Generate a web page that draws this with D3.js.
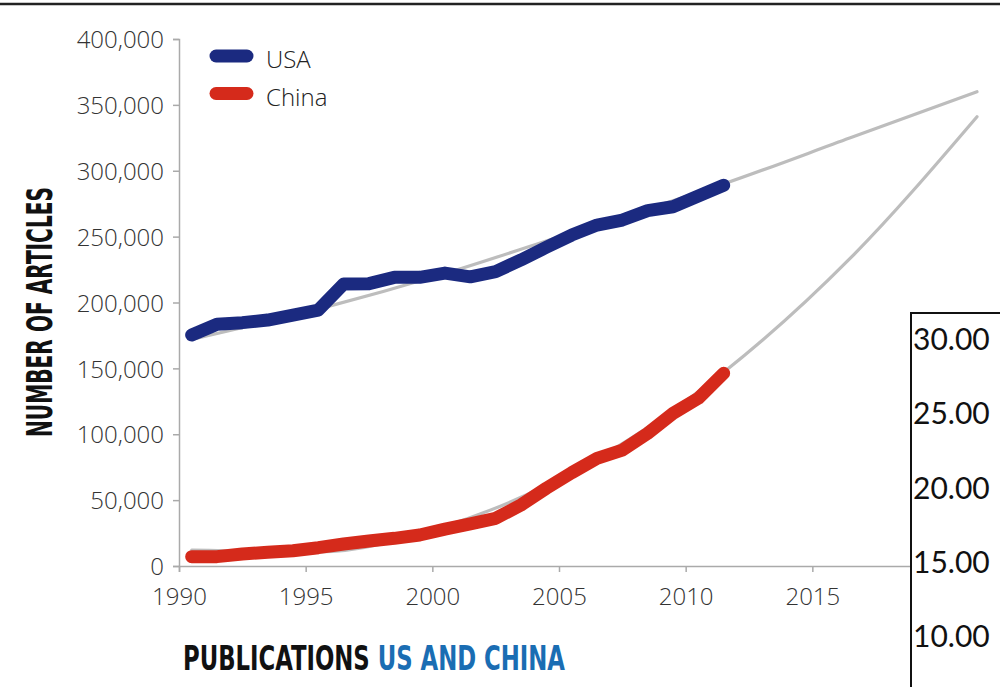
<!DOCTYPE html>
<html>
<head>
<meta charset="utf-8">
<script src="https://cdn.jsdelivr.net/npm/d3@7"></script>
<style>
  body { margin: 0; background: #fff; }
  svg { display: block; }
</style>
</head>
<body>
<svg width="1000" height="687"></svg>
<script>
const svg = d3.select('svg')

// data (values plotted mid-year)
const years = d3.range(1990, 2012)
const usa = [175300, 183500, 184700, 186700, 190500, 194300, 214000, 214300, 219100, 219100, 222300,
             219500, 223400, 232300, 241900, 251200, 258800, 262600, 269700, 272700, 280800, 289000]
const china = [7100, 7100, 9100, 10400, 11600, 13900, 16700, 19000, 21000, 23500, 28000,
               31900, 36200, 46300, 59000, 70800, 81700, 88000, 100700, 115900, 127300, 146300]

const trendYears = [1990, 1995, 2000, 2005, 2011, 2016, 2021]
const usaTrend = [172000, 195000, 222000, 253000, 290000, 325000, 360000]
const chinaTrend = [12000, 10700, 30300, 70700, 147000, 233600, 341000]

const yTicks = [0, 50000, 100000, 150000, 200000, 250000, 300000, 350000, 400000]
const xTicks = [1990, 1995, 2000, 2005, 2010, 2015]
const boxLabels = [30, 25, 20, 15, 10]

const series = [
  {name: 'USA', values: usa, trend: usaTrend, color: '#1b2a80'},
  {name: 'China', values: china, trend: chinaTrend, color: '#d52a1b'}
]

const x = d3.scaleLinear().domain([1990, 2020]).range([179, 939])
const y = d3.scaleLinear().domain([0, 400000]).range([566, 39])
const mid = yr => x(yr + 0.5)

const tickFont = '"Open Sans", sans-serif'

// top rule
svg.append('line')
   .attr('x1', 0).attr('x2', 1000)
   .attr('y1', 4).attr('y2', 4)
   .attr('stroke', '#222').attr('stroke-width', 2.5)

// y axis
const yAxis = svg.append('g')
                 .attr('transform', 'translate(179,0)')
                 .call(d3.axisLeft(y).tickValues(yTicks).tickSize(6).tickPadding(9)
                         .tickFormat(d3.format(',d')))
yAxis.select('.domain').attr('stroke', '#aaa').attr('stroke-width', 1.5)
yAxis.selectAll('.tick line').attr('stroke', '#aaa').attr('stroke-width', 1.5)
yAxis.selectAll('.tick text')
     .attr('font-family', tickFont).attr('font-size', 24).attr('font-weight', 300)
     .attr('fill', '#333').attr('dy', '0.36em')

// x axis (runs on under the box)
const xAxis = svg.append('g')
                 .attr('transform', 'translate(0,566)')
                 .call(d3.axisBottom(d3.scaleLinear().domain([1990, 2023]).range([179, 1015]))
                         .tickValues(xTicks).tickSize(6).tickPadding(16).tickFormat(d3.format('d')))
xAxis.select('.domain').attr('stroke', '#aaa').attr('stroke-width', 1.5)
xAxis.selectAll('.tick line').attr('stroke', '#aaa').attr('stroke-width', 1.5)
xAxis.selectAll('.tick text')
     .attr('font-family', tickFont).attr('font-size', 24).attr('font-weight', 300)
     .attr('fill', '#333')

// trend lines
const trendLine = d3.line()
                    .x((d, i) => mid(trendYears[i]))
                    .y(d => y(d))
                    .curve(d3.curveMonotoneX)

svg.selectAll('path.trend')
   .data(series)
   .enter().append('path')
   .attr('class', 'trend')
   .attr('d', d => trendLine(d.trend))
   .attr('fill', 'none')
   .attr('stroke', '#bdbdbd')
   .attr('stroke-width', 3.2)
   .attr('stroke-linecap', 'round')

// data lines
const line = d3.line()
               .x((d, i) => mid(years[i]))
               .y(d => y(d))

svg.selectAll('path.series')
   .data(series)
   .enter().append('path')
   .attr('class', 'series')
   .attr('d', d => line(d.values))
   .attr('fill', 'none')
   .attr('stroke', d => d.color)
   .attr('stroke-width', 13)
   .attr('stroke-linecap', 'round')
   .attr('stroke-linejoin', 'round')

// legend
const legend = svg.selectAll('g.legend')
                  .data(series)
                  .enter().append('g')
                  .attr('class', 'legend')
                  .attr('transform', (d, i) => 'translate(0,' + (56 + i * 37.5) + ')')
legend.append('line')
      .attr('x1', 216).attr('x2', 247)
      .attr('stroke', d => d.color)
      .attr('stroke-width', 13)
      .attr('stroke-linecap', 'round')
legend.append('text')
      .attr('x', 266).attr('y', 12)
      .attr('font-family', tickFont).attr('font-size', 24).attr('font-weight', 300)
      .attr('fill', '#222')
      .text(d => d.name)

// y axis title
svg.append('text')
   .attr('transform', 'rotate(-90)')
   .attr('x', -437).attr('y', 52)
   .attr('font-family', '"DejaVu Sans Condensed", "DejaVu Sans", sans-serif')
   .attr('font-weight', 'bold').attr('font-size', 36)
   .attr('textLength', 250).attr('lengthAdjust', 'spacingAndGlyphs')
   .attr('fill', '#111')
   .text('NUMBER OF ARTICLES')

// chart title, squeezed horizontally to look condensed
const title = svg.append('text')
                 .attr('transform', 'translate(183,670) scale(0.8,1)')
                 .attr('font-family', '"DejaVu Sans Condensed", "DejaVu Sans", sans-serif')
                 .attr('font-weight', 'bold').attr('font-size', 33)
                 .attr('fill', '#111')
title.append('tspan').text('PUBLICATIONS ')
title.append('tspan').attr('fill', '#1a6db3').text('US AND CHINA')

// fit the title to the width seen in the picture
const tw = title.node().getComputedTextLength()
title.attr('transform', 'translate(183,670) scale(' + (382 / tw) + ',1)')

// overlapping box on the right
const boxY = d3.scaleLinear().domain([10, 30]).range([647, 350])
svg.append('rect')
   .attr('x', 911).attr('y', 313)
   .attr('width', 100).attr('height', 400)
   .attr('fill', '#fff')
   .attr('stroke', '#111').attr('stroke-width', 2)
svg.selectAll('text.box')
   .data(boxLabels)
   .enter().append('text')
   .attr('class', 'box')
   .attr('x', 913)
   .attr('y', d => boxY(d))
   .attr('font-family', 'Lato, sans-serif').attr('font-size', 30)
   .attr('fill', '#111')
   .text(d => d3.format('.2f')(d))
</script>
</body>
</html>
